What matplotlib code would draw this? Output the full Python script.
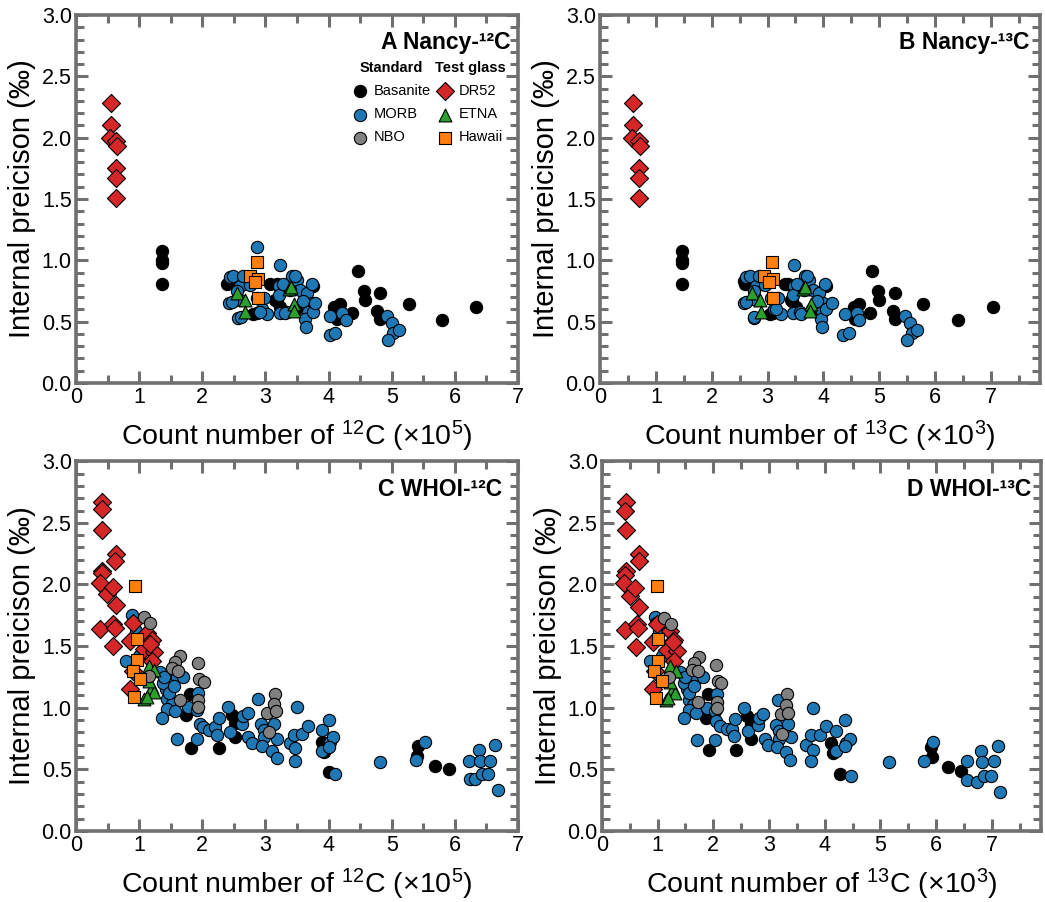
import matplotlib.pyplot as plt
from matplotlib.ticker import MultipleLocator

plt.rcParams['font.family'] = ['Liberation Sans', 'DejaVu Sans']
plt.rcParams['mathtext.fontset'] = 'custom'
plt.rcParams['mathtext.rm'] = 'Liberation Sans'
plt.rcParams['mathtext.it'] = 'Liberation Sans:italic'
plt.rcParams['mathtext.bf'] = 'Liberation Sans:bold'

# ---- A: Nancy 12C (x10^5) ----
A_bas_x = [1.36, 1.36, 1.36, 1.36, 2.39, 2.44, 3.07, 3.18, 3.15, 2.86,
           3.18, 3.23, 2.81, 3.76, 3.49, 4.08, 4.18, 4.14, 4.37, 4.47,
           4.56, 4.58, 4.82, 4.77, 4.82, 5.28, 5.80, 6.34]
A_bas_y = [1.08, 1.00, 0.98, 0.81, 0.81, 0.83, 0.81, 0.81, 0.68, 0.57,
           0.67, 0.62, 0.56, 0.79, 0.60, 0.62, 0.64, 0.52, 0.57, 0.91,
           0.75, 0.68, 0.73, 0.59, 0.52, 0.64, 0.51, 0.62]
A_morb_x = [2.44, 2.49, 2.43, 2.56, 2.60, 2.86, 2.97, 2.94, 3.02, 3.23,
            3.22, 3.23, 3.34, 3.42, 3.50, 3.55, 3.66, 3.73, 3.73, 3.68,
            3.63, 3.65, 3.60, 3.21, 3.39, 2.60, 2.86, 2.65, 2.47, 2.61,
            2.91, 3.31, 3.76, 3.79, 3.28, 3.47, 2.55, 2.75, 4.03, 4.02,
            4.10, 4.21, 4.28, 4.92, 5.00, 5.02, 5.11, 4.94]
A_morb_y = [0.86, 0.87, 0.65, 0.53, 0.79, 1.11, 0.69, 0.60, 0.56, 0.96,
            0.79, 0.57, 0.58, 0.87, 0.84, 0.76, 0.73, 0.81, 0.65, 0.58,
            0.52, 0.46, 0.67, 0.72, 0.76, 0.68, 0.69, 0.87, 0.66, 0.54,
            0.58, 0.57, 0.58, 0.65, 0.81, 0.87, 0.75, 0.80, 0.55, 0.39,
            0.41, 0.57, 0.51, 0.55, 0.49, 0.41, 0.43, 0.35]
A_nbo_x = []
A_nbo_y = []
A_dr52_x = [0.55, 0.55, 0.54, 0.64, 0.65, 0.64, 0.64, 0.64]
A_dr52_y = [2.28, 2.10, 2.00, 1.97, 1.93, 1.75, 1.67, 1.51]
A_etna_x = [2.55, 2.67, 2.67, 3.37, 3.40, 3.46, 3.46]
A_etna_y = [0.73, 0.68, 0.58, 0.77, 0.78, 0.64, 0.59]
A_haw_x = [2.87, 2.75, 2.89, 2.83, 2.88]
A_haw_y = [0.99, 0.87, 0.85, 0.82, 0.69]

# ---- B: Nancy 13C (x10^3) ----
B_bas_x = [1.46, 1.46, 1.46, 1.46, 2.60, 2.57, 3.32, 3.36, 3.42, 3.09,
           3.44, 3.51, 3.05, 4.05, 3.80, 4.54, 4.63, 4.57, 4.84, 4.88,
           4.97, 5.00, 5.28, 5.24, 5.28, 5.79, 6.41, 7.04]
B_bas_y = [1.08, 1.00, 0.98, 0.81, 0.81, 0.83, 0.81, 0.81, 0.68, 0.57,
           0.67, 0.62, 0.56, 0.79, 0.60, 0.62, 0.64, 0.52, 0.57, 0.91,
           0.75, 0.68, 0.73, 0.59, 0.52, 0.64, 0.51, 0.62]
B_morb_x = [2.62, 2.68, 2.58, 2.76, 2.80, 3.18, 3.12, 3.25, 3.48, 3.47,
            3.45, 3.58, 3.68, 3.75, 3.82, 3.92, 4.03, 4.00, 3.98, 3.95,
            3.97, 3.88, 3.45, 3.65, 2.80, 3.06, 2.84, 2.61, 2.76, 3.16,
            3.60, 4.05, 4.15, 3.53, 3.71, 2.75, 2.95, 4.39, 4.36, 4.46,
            4.60, 4.63, 5.46, 5.55, 5.58, 5.68, 5.49]
B_morb_y = [0.86, 0.87, 0.65, 0.53, 0.79, 0.69, 0.60, 0.56, 0.96, 0.79,
            0.57, 0.58, 0.87, 0.84, 0.76, 0.73, 0.81, 0.65, 0.58, 0.52,
            0.46, 0.67, 0.72, 0.76, 0.68, 0.69, 0.87, 0.66, 0.54, 0.60,
            0.56, 0.60, 0.65, 0.81, 0.87, 0.75, 0.80, 0.56, 0.39, 0.41,
            0.57, 0.51, 0.55, 0.49, 0.41, 0.43, 0.35]
B_nbo_x = []
B_nbo_y = []
B_dr52_x = [0.59, 0.59, 0.58, 0.70, 0.71, 0.70, 0.70, 0.70]
B_dr52_y = [2.28, 2.10, 2.00, 1.97, 1.93, 1.75, 1.67, 1.51]
B_etna_x = [2.73, 2.86, 2.88, 3.63, 3.67, 3.77, 3.76]
B_etna_y = [0.73, 0.68, 0.58, 0.77, 0.78, 0.64, 0.59]
B_haw_x = [3.08, 2.94, 3.09, 3.03, 3.09]
B_haw_y = [0.99, 0.87, 0.85, 0.82, 0.69]

# ---- C: WHOI 12C (x10^5) ----
C_bas_x = [1.81, 1.75, 1.82, 2.26, 2.47, 2.52, 2.52, 3.89, 3.92, 4.01,
           5.41, 5.40, 5.69, 5.90]
C_bas_y = [1.11, 0.94, 0.67, 0.67, 0.94, 0.88, 0.76, 0.72, 0.64, 0.48,
           0.69, 0.61, 0.53, 0.50]
C_morb_x = [0.88, 0.90, 0.80, 1.33, 1.43, 1.49, 1.60, 1.69, 1.44, 1.52,
            1.44, 1.57, 1.37, 1.60, 1.78, 1.94, 1.91, 1.97, 2.01, 1.91,
            2.10, 2.20, 2.26, 2.24, 2.41, 2.44, 2.63, 2.65, 2.72, 2.72,
            2.78, 2.89, 2.93, 2.97, 2.97, 2.94, 3.10, 3.18, 3.18, 3.13,
            3.39, 3.45, 3.50, 3.47, 3.47, 3.58, 3.68, 3.89, 4.01, 3.89,
            4.02, 4.07, 4.00, 4.10, 4.81, 5.39, 5.52, 6.22, 6.24, 6.32,
            6.38, 6.40, 6.43, 6.53, 6.56, 6.64, 6.68, 1.38, 1.47, 1.55,
            1.40, 1.00, 0.95]
C_morb_y = [1.75, 1.69, 1.38, 1.29, 1.15, 1.25, 1.25, 1.25, 1.07, 1.03,
            0.99, 0.97, 0.92, 0.75, 1.01, 1.12, 0.98, 0.87, 0.84, 0.75,
            0.82, 0.84, 0.92, 0.78, 1.01, 0.80, 0.87, 0.93, 0.96, 0.76,
            0.71, 1.07, 0.87, 0.82, 0.76, 0.69, 0.65, 0.75, 0.59, 0.87,
            0.71, 0.78, 1.01, 0.67, 0.57, 0.79, 0.85, 0.82, 0.90, 0.65,
            0.72, 0.76, 0.68, 0.46, 0.56, 0.58, 0.72, 0.57, 0.42, 0.42,
            0.66, 0.57, 0.46, 0.46, 0.57, 0.70, 0.33, 1.20, 1.12, 1.18,
            1.25, 1.42, 1.62]
C_nbo_x = [1.08, 1.17, 1.16, 1.65, 1.57, 1.52, 1.62, 1.93, 1.95, 2.02,
           1.64, 1.94, 1.94, 3.02, 3.15, 3.13, 3.17, 3.06]
C_nbo_y = [1.74, 1.69, 1.26, 1.42, 1.37, 1.32, 1.30, 1.36, 1.23, 1.21,
           1.06, 1.06, 1.01, 0.96, 1.11, 1.03, 0.97, 0.80]
C_dr52_x = [0.42, 0.41, 0.42, 0.63, 0.62, 0.42, 0.41, 0.38, 0.49, 0.59,
            0.63, 0.38, 0.59, 0.62, 0.59, 0.91, 0.85, 1.07, 1.12, 1.20,
            1.24, 1.17, 0.86, 0.90, 1.20]
C_dr52_y = [2.67, 2.61, 2.44, 2.25, 2.19, 2.11, 2.09, 2.01, 1.92, 1.98,
            1.83, 1.64, 1.68, 1.65, 1.50, 1.69, 1.54, 1.48, 1.61, 1.55,
            1.45, 1.52, 1.15, 1.30, 1.38]
C_etna_x = [1.15, 1.24, 1.20, 1.23, 1.07, 1.12, 1.15]
C_etna_y = [1.34, 1.31, 1.17, 1.13, 1.07, 1.09, 1.22]
C_haw_x = [0.94, 0.96, 0.96, 0.90, 1.01, 0.92]
C_haw_y = [1.99, 1.56, 1.39, 1.30, 1.23, 1.09]

# ---- D: WHOI 13C (x10^3) ----
D_bas_x = [1.91, 1.86, 1.93, 2.40, 2.61, 2.67, 2.67, 4.12, 4.15, 4.28,
           5.91, 5.92, 6.21, 6.44]
D_bas_y = [1.11, 0.92, 0.66, 0.66, 0.93, 0.87, 0.75, 0.71, 0.63, 0.46,
           0.68, 0.60, 0.52, 0.49]
D_morb_x = [0.95, 0.97, 0.87, 1.41, 1.52, 1.61, 1.70, 1.81, 1.57, 1.64,
            1.57, 1.69, 1.47, 1.71, 1.89, 2.07, 2.03, 2.05, 2.12, 2.03,
            2.24, 2.33, 2.39, 2.37, 2.55, 2.63, 2.80, 2.82, 2.89, 2.92,
            2.98, 3.16, 3.13, 3.18, 3.18, 3.14, 3.31, 3.40, 3.37, 3.34,
            3.67, 3.76, 3.79, 3.79, 3.76, 3.91, 4.02, 4.21, 4.36, 4.21,
            4.39, 4.45, 4.36, 4.47, 5.15, 5.79, 5.94, 6.56, 6.56, 6.74,
            6.80, 6.83, 6.86, 6.98, 7.04, 7.11, 7.15, 1.47, 1.57, 1.65,
            1.50, 1.07, 1.02]
D_morb_y = [1.74, 1.69, 1.38, 1.29, 1.15, 1.24, 1.24, 1.25, 1.06, 1.02,
            0.98, 0.96, 0.92, 0.74, 1.00, 1.11, 0.97, 0.89, 0.85, 0.74,
            0.83, 0.83, 0.91, 0.77, 1.00, 0.81, 0.86, 0.92, 0.95, 0.75,
            0.70, 1.06, 0.86, 0.81, 0.75, 0.68, 0.64, 0.76, 0.58, 0.87,
            0.70, 0.78, 1.00, 0.66, 0.57, 0.78, 0.85, 0.81, 0.90, 0.65,
            0.71, 0.75, 0.69, 0.45, 0.56, 0.57, 0.72, 0.57, 0.41, 0.40,
            0.65, 0.56, 0.45, 0.45, 0.57, 0.69, 0.32, 1.20, 1.12, 1.18,
            1.25, 1.42, 1.62]
D_nbo_x = [1.12, 1.24, 1.21, 1.75, 1.65, 1.61, 1.72, 2.04, 2.08, 2.14,
           1.73, 2.06, 2.06, 3.22, 3.33, 3.31, 3.34, 3.24]
D_nbo_y = [1.73, 1.68, 1.25, 1.41, 1.36, 1.31, 1.30, 1.35, 1.22, 1.20,
           1.05, 1.05, 1.00, 0.95, 1.11, 1.02, 0.96, 0.79]
D_dr52_x = [0.44, 0.42, 0.44, 0.67, 0.66, 0.44, 0.42, 0.40, 0.50, 0.60,
            0.66, 0.41, 0.63, 0.64, 0.61, 0.98, 0.91, 1.16, 1.22, 1.29,
            1.34, 1.27, 0.92, 0.96, 1.29]
D_dr52_y = [2.67, 2.60, 2.44, 2.25, 2.19, 2.11, 2.08, 2.01, 1.91, 1.97,
            1.82, 1.63, 1.68, 1.65, 1.49, 1.68, 1.53, 1.47, 1.62, 1.55,
            1.46, 1.53, 1.15, 1.30, 1.38]
D_etna_x = [1.22, 1.33, 1.28, 1.31, 1.15, 1.19, 1.22]
D_etna_y = [1.34, 1.30, 1.16, 1.12, 1.06, 1.08, 1.21]
D_haw_x = [0.98, 1.01, 1.01, 0.94, 1.07, 0.97]
D_haw_y = [1.99, 1.56, 1.38, 1.30, 1.22, 1.08]

# marker style per sample (draw order = list order)
styles = [
    ('Basanite', 'bas', 'o', 'black'),
    ('MORB', 'morb', 'o', '#1f77b4'),
    ('DR52', 'dr52', 'D', '#d62728'),
    ('ETNA', 'etna', '^', '#2ca02c'),
    ('NBO', 'nbo', 'o', '#808080'),
    ('Hawaii', 'haw', 's', '#ff7f0e'),
]
sizes = {'o': 78, 'D': 85, '^': 85, 's': 80}

g = globals()
gray = '#707070'

fig = plt.figure(figsize=(10.45, 9.02), dpi=100)
panels = [
    ('A', [0.0727, 0.5754, 0.4230, 0.4080], 'A Nancy-¹²C', 12, 5, 7.0, 0.982),
    ('B', [0.5742, 0.5754, 0.4210, 0.4080], 'B Nancy-¹³C', 13, 3, 7.88, 0.977),
    ('C', [0.0727, 0.0787, 0.4230, 0.4100], 'C WHOI-¹²C', 12, 5, 7.0, 0.964),
    ('D', [0.5760, 0.0787, 0.4200, 0.4100], 'D WHOI-¹³C', 13, 3, 7.88, 0.979),
]

leg_kw = dict(loc='upper left', frameon=False, fontsize=10.5,
              handlelength=1.0, handletextpad=0.45, labelspacing=0.62,
              borderpad=0.1, title_fontproperties={'weight': 'bold', 'size': 10.5})

for key, rect, title, iso, expo, xmax, tx in panels:
    ax = fig.add_axes(rect)
    for label, name, mk, col in styles:
        ax.scatter(g[key + '_' + name + '_x'], g[key + '_' + name + '_y'],
                   marker=mk, s=sizes[mk], facecolor=col, edgecolor='black',
                   linewidth=0.8, label=label, zorder=3)
    ax.set_xlim(0, xmax)
    ax.set_ylim(0, 3.0)
    ax.xaxis.set_major_locator(MultipleLocator(1))
    ax.xaxis.set_minor_locator(MultipleLocator(0.5))
    ax.yaxis.set_major_locator(MultipleLocator(0.5))
    ax.yaxis.set_minor_locator(MultipleLocator(0.1))
    ax.yaxis.set_major_formatter(plt.FormatStrFormatter('%.1f'))
    ax.tick_params(which='both', direction='in', top=True, right=True,
                   color=gray, width=2.2, labelsize=15.5, pad=3)
    ax.tick_params(which='major', length=8.5)
    ax.tick_params(which='minor', length=5.5)
    for sp in ax.spines.values():
        sp.set_color(gray)
        sp.set_linewidth(2.6)
    ax.set_ylabel('Internal preicison (‰)', fontsize=21, labelpad=4)
    ax.set_xlabel('Count number of $^{%d}$C (×10$^{%d}$)' % (iso, expo),
                  fontsize=20.5, labelpad=8)
    ax.text(tx, 0.924, title, transform=ax.transAxes, ha='right', va='center',
            fontsize=16.5, fontweight='bold')

    if key == 'A':
        h, l = ax.get_legend_handles_labels()
        hd = dict(zip(l, h))
        leg1 = ax.legend([hd[n] for n in ['Basanite', 'MORB', 'NBO']],
                         ['Basanite', 'MORB', 'NBO'], title='Standard',
                         bbox_to_anchor=(0.606, 0.898), **leg_kw)
        ax.add_artist(leg1)
        ax.legend([hd[n] for n in ['DR52', 'ETNA', 'Hawaii']],
                  ['DR52', 'ETNA', 'Hawaii'], title='Test glass',
                  bbox_to_anchor=(0.793, 0.898), **leg_kw)

plt.savefig('out.png', dpi=100)
